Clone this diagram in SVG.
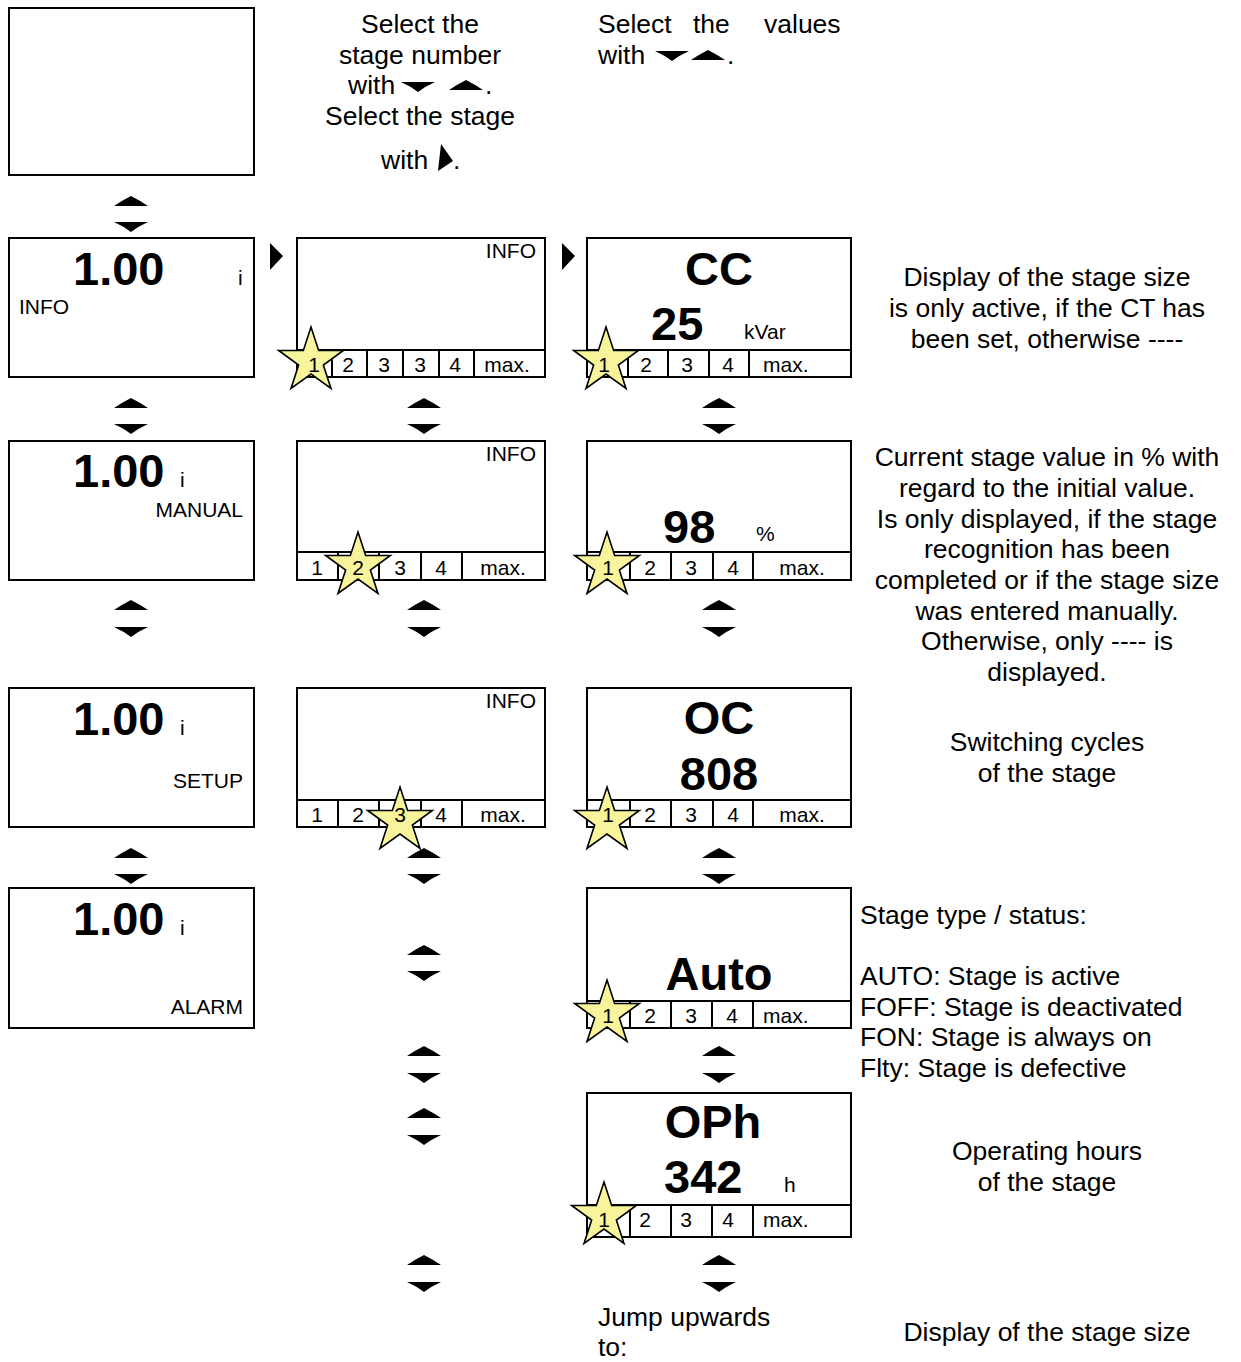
<svg xmlns="http://www.w3.org/2000/svg" xmlns:xlink="http://www.w3.org/1999/xlink" width="1241" height="1362" viewBox="0 0 1241 1362">
<style>
.box{fill:#fff;stroke:#000;stroke-width:2}
.ln{stroke:#000;stroke-width:2;fill:none}
text{font-family:"Liberation Sans",Arial,sans-serif;fill:#000}
.big{font-size:47px;font-weight:bold}
.sm{font-size:21px}
.c{text-anchor:middle}
.r{text-anchor:end}
.body{font-size:26.5px}
.star{fill:#F8F49C;stroke:#000;stroke-width:1.6;stroke-linejoin:miter}
.tri{fill:#000}
</style>
<defs>
<path id="star" class="star" d="M0,-34 L7.64,-10.52 L32.34,-10.51 L12.36,4.02 L19.98,27.51 L0,13 L-19.98,27.51 L-12.36,4.02 L-32.34,-10.51 L-7.64,-10.52 Z"/>
<path id="up" class="tri" d="M-17,5 Q-8,-1 0,-5 Q8,-1 17,5 Z"/>
<path id="dn" class="tri" d="M-17,-5 L17,-5 Q8,-1 0,5 Q-8,-1 -17,-5 Z"/>
<path id="rt" class="tri" d="M0,0 L13,13 L0,27 Z"/>
</defs>

<g id="intro-text">
<text class="body c" x="420" y="33">Select the</text>
<text class="body c" x="420" y="64">stage number</text>
<text class="body" x="348" y="94">with</text>
<use xlink:href="#dn" x="418" y="87"/>
<use xlink:href="#up" x="466" y="85"/>
<text class="body" x="485" y="94">.</text>
<text class="body c" x="420" y="125">Select the stage</text>
<text class="body" x="381" y="169">with</text>
<path class="tri" d="M441,144 L453,161 L438,171 Z"/>
<text class="body" x="453" y="169">.</text>
<text class="body" x="598" y="33">Select</text>
<text class="body" x="693" y="33">the</text>
<text class="body" x="764" y="33">values</text>
<text class="body" x="598" y="64">with</text>
<use xlink:href="#dn" x="672" y="56"/>
<use xlink:href="#up" x="708" y="55"/>
<text class="body" x="727" y="64">.</text>
</g>

<g id="node-blank">
<rect class="box" x="9" y="8" width="245" height="167"/>
</g>

<g id="node-info">
<rect class="box" x="9" y="238" width="245" height="139"/>
<text class="big" x="73" y="285">1.00</text>
<text class="sm" x="238" y="285">i</text>
<text class="sm" x="19" y="314">INFO</text>
</g>

<g id="node-manual">
<rect class="box" x="9" y="441" width="245" height="139"/>
<text class="big" x="73" y="487">1.00</text>
<text class="sm" x="180" y="487">i</text>
<text class="sm r" x="243" y="517">MANUAL</text>
</g>

<g id="node-setup">
<rect class="box" x="9" y="688" width="245" height="139"/>
<text class="big" x="73" y="735">1.00</text>
<text class="sm" x="180" y="735">i</text>
<text class="sm r" x="243" y="788">SETUP</text>
</g>

<g id="node-alarm">
<rect class="box" x="9" y="888" width="245" height="140"/>
<text class="big" x="73" y="935">1.00</text>
<text class="sm" x="180" y="935">i</text>
<text class="sm r" x="243" y="1014">ALARM</text>
</g>

<g id="node-stage1">
<rect class="box" x="297" y="238" width="248" height="139"/>
<text class="sm r" x="536" y="258">INFO</text>
<path class="ln" d="M297,350 H545 M332,350 V377 M367,350 V377 M403,350 V377 M439,350 V377 M474,350 V377"/>
<use xlink:href="#star" x="311" y="361"/>
<text class="sm c" x="314" y="372">1</text>
<text class="sm c" x="348" y="372">2</text>
<text class="sm c" x="384" y="372">3</text>
<text class="sm c" x="420" y="372">3</text>
<text class="sm c" x="455" y="372">4</text>
<text class="sm c" x="507" y="372">max.</text>
</g>

<g id="node-stage2">
<rect class="box" x="297" y="441" width="248" height="139"/>
<text class="sm r" x="536" y="461">INFO</text>
<path class="ln" d="M297,552 H545 M338,552 V580 M379,552 V580 M421,552 V580 M462,552 V580"/>
<use xlink:href="#star" x="358" y="566"/>
<text class="sm c" x="317" y="575">1</text>
<text class="sm c" x="358" y="575">2</text>
<text class="sm c" x="400" y="575">3</text>
<text class="sm c" x="441" y="575">4</text>
<text class="sm c" x="503" y="575">max.</text>
</g>

<g id="node-stage3">
<rect class="box" x="297" y="688" width="248" height="139"/>
<text class="sm r" x="536" y="708">INFO</text>
<path class="ln" d="M297,800 H545 M338,800 V827 M379,800 V827 M421,800 V827 M462,800 V827"/>
<use xlink:href="#star" x="400" y="821"/>
<text class="sm c" x="317" y="822">1</text>
<text class="sm c" x="358" y="822">2</text>
<text class="sm c" x="400" y="822">3</text>
<text class="sm c" x="441" y="822">4</text>
<text class="sm c" x="503" y="822">max.</text>
</g>

<g id="node-cc">
<rect class="box" x="587" y="238" width="264" height="139"/>
<text class="big c" x="719" y="285">CC</text>
<text class="big" x="651" y="340">25</text>
<text class="sm" x="744" y="339">kVar</text>
<path class="ln" d="M587,350 H851 M628,350 V377 M668,350 V377 M709,350 V377 M749,350 V377"/>
<use xlink:href="#star" x="606" y="361"/>
<text class="sm c" x="604" y="372">1</text>
<text class="sm c" x="646" y="372">2</text>
<text class="sm c" x="687" y="372">3</text>
<text class="sm c" x="728" y="372">4</text>
<text class="sm" x="763" y="372">max.</text>
</g>

<g id="node-percent">
<rect class="box" x="587" y="441" width="264" height="139"/>
<text class="big" x="663" y="543">98</text>
<text class="sm" x="756" y="541">%</text>
<path class="ln" d="M587,552 H851 M630,552 V580 M671,552 V580 M713,552 V580 M753,552 V580"/>
<use xlink:href="#star" x="607" y="566"/>
<text class="sm c" x="608" y="575">1</text>
<text class="sm c" x="650" y="575">2</text>
<text class="sm c" x="691" y="575">3</text>
<text class="sm c" x="733" y="575">4</text>
<text class="sm c" x="802" y="575">max.</text>
</g>

<g id="node-oc">
<rect class="box" x="587" y="688" width="264" height="139"/>
<text class="big c" x="719" y="734">OC</text>
<text class="big c" x="719" y="790">808</text>
<path class="ln" d="M587,800 H851 M630,800 V827 M671,800 V827 M713,800 V827 M753,800 V827"/>
<use xlink:href="#star" x="607" y="821"/>
<text class="sm c" x="608" y="822">1</text>
<text class="sm c" x="650" y="822">2</text>
<text class="sm c" x="691" y="822">3</text>
<text class="sm c" x="733" y="822">4</text>
<text class="sm c" x="802" y="822">max.</text>
</g>

<g id="node-auto">
<rect class="box" x="587" y="888" width="264" height="140"/>
<text class="big c" x="719" y="990">Auto</text>
<path class="ln" d="M587,1001 H851 M630,1001 V1028 M671,1001 V1028 M712,1001 V1028 M753,1001 V1028"/>
<use xlink:href="#star" x="607" y="1014"/>
<text class="sm c" x="608" y="1023">1</text>
<text class="sm c" x="650" y="1023">2</text>
<text class="sm c" x="691" y="1023">3</text>
<text class="sm c" x="732" y="1023">4</text>
<text class="sm" x="763" y="1023">max.</text>
</g>

<g id="node-oph">
<rect class="box" x="587" y="1093" width="264" height="144"/>
<text class="big c" x="713" y="1138">OPh</text>
<text class="big" x="664" y="1193">342</text>
<text class="sm" x="784" y="1192">h</text>
<path class="ln" d="M587,1205 H851 M630,1205 V1237 M671,1205 V1237 M712,1205 V1237 M753,1205 V1237"/>
<use xlink:href="#star" x="604" y="1216"/>
<text class="sm c" x="604" y="1227">1</text>
<text class="sm c" x="645" y="1227">2</text>
<text class="sm c" x="686" y="1227">3</text>
<text class="sm c" x="728" y="1227">4</text>
<text class="sm" x="763" y="1227">max.</text>
</g>

<g id="connectors">
<use xlink:href="#up" x="131" y="201"/><use xlink:href="#dn" x="131" y="227"/>
<use xlink:href="#rt" x="270" y="243"/>
<use xlink:href="#rt" x="562" y="243"/>
<use xlink:href="#up" x="131" y="403"/><use xlink:href="#dn" x="131" y="429"/>
<use xlink:href="#up" x="424" y="403"/><use xlink:href="#dn" x="424" y="429"/>
<use xlink:href="#up" x="719" y="403"/><use xlink:href="#dn" x="719" y="429"/>
<use xlink:href="#up" x="131" y="605"/><use xlink:href="#dn" x="131" y="632"/>
<use xlink:href="#up" x="424" y="605"/><use xlink:href="#dn" x="424" y="632"/>
<use xlink:href="#up" x="719" y="605"/><use xlink:href="#dn" x="719" y="632"/>
<use xlink:href="#up" x="131" y="853"/><use xlink:href="#dn" x="131" y="879"/>
<use xlink:href="#up" x="424" y="853"/><use xlink:href="#dn" x="424" y="879"/>
<use xlink:href="#up" x="719" y="853"/><use xlink:href="#dn" x="719" y="879"/>
<use xlink:href="#up" x="424" y="950"/><use xlink:href="#dn" x="424" y="976"/>
<use xlink:href="#up" x="424" y="1051"/><use xlink:href="#dn" x="424" y="1078"/>
<use xlink:href="#up" x="719" y="1051"/><use xlink:href="#dn" x="719" y="1078"/>
<use xlink:href="#up" x="424" y="1113"/><use xlink:href="#dn" x="424" y="1140"/>
<use xlink:href="#up" x="424" y="1260"/><use xlink:href="#dn" x="424" y="1287"/>
<use xlink:href="#up" x="719" y="1260"/><use xlink:href="#dn" x="719" y="1287"/>
</g>

<g id="notes">
<text class="body c" x="1047" y="286">Display of the stage size</text>
<text class="body c" x="1047" y="317">is only active, if the CT has</text>
<text class="body c" x="1047" y="348">been set, otherwise ----</text>
<text class="body c" x="1047" y="466">Current stage value in % with</text>
<text class="body c" x="1047" y="497">regard to the initial value.</text>
<text class="body c" x="1047" y="528">Is only displayed, if the stage</text>
<text class="body c" x="1047" y="558">recognition has been</text>
<text class="body c" x="1047" y="589">completed or if the stage size</text>
<text class="body c" x="1047" y="620">was entered manually.</text>
<text class="body c" x="1047" y="650">Otherwise, only ---- is</text>
<text class="body c" x="1047" y="681">displayed.</text>
<text class="body c" x="1047" y="751">Switching cycles</text>
<text class="body c" x="1047" y="782">of the stage</text>
<text class="body" x="860" y="924">Stage type / status:</text>
<text class="body" x="860" y="985">AUTO: Stage is active</text>
<text class="body" x="860" y="1016">FOFF: Stage is deactivated</text>
<text class="body" x="860" y="1046">FON: Stage is always on</text>
<text class="body" x="860" y="1077">Flty: Stage is defective</text>
<text class="body c" x="1047" y="1160">Operating hours</text>
<text class="body c" x="1047" y="1191">of the stage</text>
<text class="body" x="598" y="1326">Jump upwards</text>
<text class="body" x="598" y="1356">to:</text>
<text class="body c" x="1047" y="1341">Display of the stage size</text>
</g>
</svg>
